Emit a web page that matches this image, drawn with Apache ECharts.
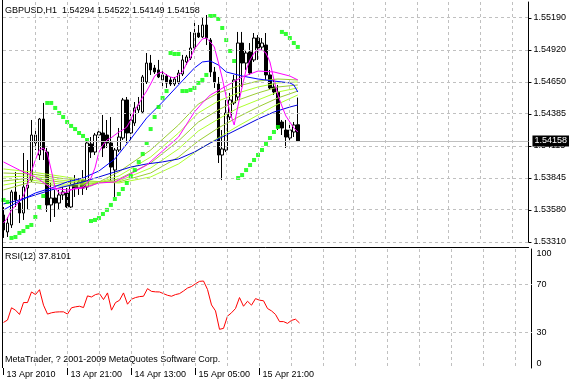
<!DOCTYPE html>
<html><head><meta charset="utf-8">
<script src="https://cdn.jsdelivr.net/npm/echarts@6/dist/echarts.min.js"></script>
<style>html,body{margin:0;padding:0;background:#fff}#c{width:569px;height:385px}</style>
</head><body><div id="c"></div>
<script>
// ---------- data ----------
const titleText = 'GBPUSD,H1  1.54294 1.54522 1.54149 1.54158';
const rsiTitle = 'RSI(12) 37.8101';
const copyright = 'MetaTrader, ? 2001-2009 MetaQuotes Software Corp.';
const timeLabels = ['13 Apr 2010', '13 Apr 21:00', '14 Apr 13:00', '15 Apr 05:00', '15 Apr 21:00'];
const barsPerTimeLabel = 16;
const barsPerGridLine = 8;
const slotCount = 133;
const priceLabels = ['1.53310', '1.53580', '1.53845', '1.54115', '1.54385', '1.54650', '1.54920', '1.55190'];
const priceMin = 1.53310, priceTop = 1.55190;
const rsiLabels = {0: '0', 30: '30', 70: '70', 100: '100'};
const rsiLevels = [30, 70];
const bidPrice = 1.54158;

const opens = [1.53537,1.53394,1.53453,1.53730,1.53637,1.53553,1.53763,1.53830,1.54141,1.54040,
1.54342,1.54065,1.53621,1.53679,1.53637,1.53705,1.53721,1.53604,1.53797,1.53763,
1.53830,1.53772,1.54133,1.54065,1.54208,1.54225,1.54208,1.54141,1.53914,1.54082,
1.54183,1.54502,1.54225,1.54309,1.54418,1.54401,1.54653,1.54812,1.54770,1.54754,
1.54670,1.54703,1.54670,1.54636,1.54653,1.54720,1.54821,1.54854,1.54938,1.55064,
1.55031,1.55131,1.55005,1.54737,1.54636,1.54040,1.54082,1.54359,1.54477,1.54527,
1.54980,1.54812,1.54905,1.54838,1.55022,1.54946,1.54963,1.54712,1.54611,1.54569,
1.54317,1.54250,1.54183,1.54233,1.54294];
const highs = [1.53604,1.53520,1.53747,1.53898,1.53705,1.54057,1.53998,1.54334,1.54267,1.54351,
1.54477,1.54099,1.53805,1.53747,1.53747,1.53772,1.53763,1.53830,1.53872,1.53847,
1.53914,1.54166,1.54191,1.54225,1.54267,1.54376,1.54334,1.54359,1.54099,1.54267,
1.54519,1.54527,1.54401,1.54485,1.54527,1.54712,1.54896,1.54880,1.54796,1.54838,
1.54770,1.54720,1.54695,1.54695,1.54754,1.54880,1.54880,1.55073,1.55156,1.55131,
1.55198,1.55215,1.55022,1.54779,1.54695,1.54250,1.54502,1.54561,1.54712,1.55073,
1.55073,1.54922,1.54980,1.55064,1.55047,1.55022,1.55064,1.54754,1.54670,1.54628,
1.54334,1.54334,1.54317,1.54317,1.54522];
const lows = [1.53344,1.53352,1.53428,1.53604,1.53469,1.53495,1.53579,1.53814,1.54082,1.53998,
1.53998,1.53562,1.53478,1.53520,1.53579,1.53663,1.53595,1.53595,1.53688,1.53705,
1.53705,1.53747,1.54015,1.54040,1.54183,1.54023,1.54099,1.53814,1.53688,1.54065,
1.54166,1.54141,1.54141,1.54284,1.54393,1.54393,1.54636,1.54712,1.54720,1.54686,
1.54603,1.54603,1.54619,1.54619,1.54636,1.54703,1.54796,1.54838,1.54922,1.55022,
1.55022,1.54963,1.54695,1.54603,1.53973,1.53830,1.54065,1.54334,1.54460,1.54502,
1.54611,1.54754,1.54712,1.54821,1.54838,1.54922,1.54670,1.54586,1.54544,1.54250,
1.54208,1.54099,1.54166,1.54191,1.54149];
const closes = [1.53411,1.53469,1.53730,1.53663,1.53553,1.53772,1.53788,1.54208,1.54208,1.54342,
1.54082,1.53621,1.53679,1.53637,1.53705,1.53730,1.53604,1.53788,1.53763,1.53814,
1.53763,1.54141,1.54065,1.54208,1.54233,1.54099,1.54141,1.53939,1.54082,1.54191,
1.54502,1.54225,1.54334,1.54435,1.54460,1.54695,1.54812,1.54754,1.54737,1.54695,
1.54712,1.54644,1.54636,1.54678,1.54728,1.54838,1.54863,1.54938,1.55064,1.55031,
1.55131,1.55022,1.54737,1.54653,1.54040,1.54091,1.54393,1.54502,1.54670,1.54980,
1.54812,1.54896,1.54728,1.55022,1.54938,1.54980,1.54712,1.54603,1.54569,1.54267,
1.54267,1.54191,1.54250,1.54292,1.54158];

// fast magenta MA, one value per bar
const maFastMagenta = [1.53470,1.53511,1.53579,1.53612,1.53654,1.53696,1.53788,1.53898,1.53998,1.54082,
1.54099,1.54057,1.53914,1.53763,1.53721,1.53721,1.53730,1.53747,1.53763,1.53763,
1.53772,1.53805,1.53847,1.53931,1.54065,1.54124,1.54166,1.54183,1.54208,1.54233,
1.54250,1.54275,1.54334,1.54418,1.54468,1.54527,1.54577,1.54636,1.54703,1.54728,
1.54737,1.54712,1.54695,1.54686,1.54712,1.54737,1.54804,1.54854,1.54930,1.54972,
1.55014,1.55022,1.54989,1.54947,1.54821,1.54686,1.54527,1.54393,1.54292,1.54460,
1.54611,1.54754,1.54838,1.54896,1.54922,1.54922,1.54896,1.54821,1.54670,1.54544,
1.54451,1.54368,1.54317,1.54267,1.54233];
// slower lines, read at sample bars
const maSlowMagentaBars = [0,4,8,12,16,20,24,28,32,36,40,44,48,50,52,56,60,64,68,72,74];
const maSlowMagenta = [1.53982,1.53914,1.53856,1.53763,1.53747,1.53763,1.53805,1.53814,1.53881,1.53956,1.54074,1.54191,1.54401,1.54477,1.54544,1.54619,1.54695,1.54745,1.54737,1.54703,1.54670];
const maFastBlueBars = [0,4,8,12,16,20,24,28,32,36,40,44,48,50,52,54,56,60,64,68,72,73,74];
const maFastBlue = [1.53579,1.53654,1.53721,1.53763,1.53814,1.53847,1.53906,1.54007,1.54175,1.54351,1.54485,1.54628,1.54770,1.54821,1.54829,1.54796,1.54737,1.54703,1.54678,1.54661,1.54645,1.54628,1.54569];
const maSlowBlueBars = [0,4,8,12,16,20,24,28,32,36,40,44,48,52,56,60,64,68,72,74];
const maSlowBlue = [1.53629,1.53663,1.53705,1.53747,1.53780,1.53814,1.53856,1.53898,1.53939,1.53965,1.53982,1.54007,1.54065,1.54141,1.54208,1.54275,1.54342,1.54401,1.54443,1.54460];
const ribbonBars = [0,7,14,22,29,37,44,49,54,59,64,69,74];
const ribbon1 = [1.53747,1.53814,1.53780,1.53780,1.53898,1.54082,1.54292,1.54468,1.54561,1.54619,1.54661,1.54678,1.54670];
const ribbon2 = [1.53788,1.53830,1.53797,1.53788,1.53864,1.54023,1.54225,1.54393,1.54493,1.54561,1.54611,1.54645,1.54653];
const ribbon3 = [1.53822,1.53847,1.53814,1.53797,1.53839,1.53973,1.54158,1.54317,1.54418,1.54502,1.54561,1.54611,1.54628];
const ribbon4 = [1.53856,1.53864,1.53830,1.53805,1.53822,1.53931,1.54091,1.54242,1.54342,1.54435,1.54502,1.54569,1.54603];
const ribbon5 = [1.53889,1.53881,1.53847,1.53814,1.53814,1.53889,1.54023,1.54158,1.54267,1.54359,1.54443,1.54519,1.54577];
const ribbon6 = [1.53923,1.53898,1.53864,1.53822,1.53805,1.53856,1.53965,1.54082,1.54183,1.54284,1.54376,1.54468,1.54544];
const sar = [1.53663,1.53646,
1.53344,1.53352,1.53386,1.53402,1.53436,1.53453,1.53520,1.53604,1.53696,
1.54477,1.54477,1.54435,1.54393,1.54359,1.54317,1.54284,1.54258,1.54225,1.54200,1.54166,
1.53486,1.53495,1.53511,1.53545,1.53579,1.53621,1.53671,1.53713,1.53755,1.53805,1.53864,1.53914,1.53982,1.54049,1.54141,1.54258,1.54359,1.54443,1.54519,1.54577,
1.54896,1.54888,1.54888,
1.54577,1.54577,1.54586,1.54603,1.54645,1.54670,1.54712,
1.55207,1.55207,1.55182,1.55106,1.55005,1.54913,1.54829,
1.53847,1.53872,1.53914,1.53956,1.53998,1.54040,1.54082,1.54133,1.54183,1.54233,1.54275,
1.55073,1.55056,1.55022,1.54980,1.54947];
const rsi = [38.3,40.3,50.6,48.6,45.0,55.0,55.0,63.9,61.7,65.8,
52.8,45.3,46.4,47.0,47.2,47.2,45.3,50.6,51.4,51.9,
50.8,60.6,59.7,61.7,62.5,57.5,63.1,48.6,55.0,56.9,
63.1,53.6,57.8,59.2,60.0,60.3,66.7,64.4,64.0,63.9,
62.5,61.1,60.3,61.7,62.5,64.7,67.2,68.5,70.8,72.8,
73.1,66.0,53.0,48.0,32.5,33.3,43.6,46.4,50.0,59.2,
51.9,56.1,52.8,58.3,57.0,56.5,50.0,48.0,45.0,39.0,
39.0,37.5,40.0,41.0,37.81];

// ---------- chart ----------
const FONT = '"Liberation Sans", Arial, sans-serif';
const GRID_LEFT = 3.5, GRID_W = 528;
const DASH_ON = 3, DASH_OFF = 3;
const cats = Array.from({length: slotCount}, (_, i) => String(i));
const priceInterval = (priceTop - priceMin) / (priceLabels.length - 1);
const pairs = (bars, vals) => bars.map((b, i) => [b, vals[i]]);
const isTimeTick = (i) => i % barsPerTimeLabel === 0 && i / barsPerTimeLabel < timeLabels.length;
const gridCols = [];
for (let k = barsPerGridLine; k < slotCount; k += barsPerGridLine) gridCols.push(k);
const crisp = (v) => Math.round(v - 0.5) + 0.5;
const seg = (x1, y1, x2, y2, stroke) => ({type: 'line', shape: {x1, y1, x2, y2}, style: {stroke, lineWidth: 1}});

// dotted grid + panel frame, placed through the axes' own scales
function gridSeries(xi, yi, baseY, levels, frameOf) {
  const data = [...gridCols.map((c) => [c, baseY, 0]), ...levels.map((l) => [0, l, 1]), [0, baseY, 2]];
  return {type: 'custom', xAxisIndex: xi, yAxisIndex: yi, silent: true, z: 10, clip: false, data,
    renderItem: (params, api) => {
      const cs = params.coordSys;
      const kind = api.value(2);
      if (kind === 2) {
        return {type: 'group', children: frameOf(cs).map((s) => seg(s.x1, s.y1, s.x2, s.y2, '#000000'))};
      }
      const p = api.coord([api.value(0), api.value(1)]);
      const children = [];
      if (kind === 0) {
        const x = crisp(p[0]);
        const top = Math.round(cs.y), bottom = Math.round(cs.y + cs.height);
        for (let y = top; y < bottom; y += DASH_ON + DASH_OFF) children.push(seg(x, y, x, Math.min(y + DASH_ON, bottom), '#c0c0c0'));
      } else {
        const y = crisp(p[1]);
        const left = Math.floor(cs.x), right = Math.round(cs.x + cs.width);
        for (let x = left; x < right; x += DASH_ON + DASH_OFF) children.push(seg(x, y, Math.min(x + DASH_ON, right), y, '#c0c0c0'));
      }
      return {type: 'group', children};
    }};
}
const priceFrame = (cs) => [
  {x1: cs.x - 1, y1: 0, x2: cs.x - 1, y2: cs.y + cs.height + 6},
  {x1: cs.x - 1.5, y1: cs.y + cs.height + 5.5, x2: cs.x + cs.width + 0.5, y2: cs.y + cs.height + 5.5}
];
const rsiFrame = (cs) => [
  {x1: cs.x - 1, y1: cs.y - 1.5, x2: cs.x - 1, y2: cs.y + cs.height}
];
function lineSeries(data, color) {
  return {type: 'line', data, xAxisIndex: 0, yAxisIndex: 0, showSymbol: false, symbol: 'none',
    lineStyle: {color, width: 1}, silent: true, z: 3};
}
const txt = (text, top) => ({text, left: 5, top, padding: 0,
  textStyle: {fontSize: 9, fontWeight: 'normal', fontFamily: FONT, color: '#000'}});

const chart = echarts.init(document.getElementById('c'), null, {renderer: 'canvas'});
const ribbonColors = ['#adff2f', '#9acd32', '#adff2f', '#9acd32', '#adff2f', '#9acd32'];
const ribbons = [ribbon6, ribbon5, ribbon4, ribbon3, ribbon2, ribbon1];

chart.setOption({
  animation: false,
  backgroundColor: '#fff',
  title: [txt(titleText, 6), txt(rsiTitle, 252), txt(copyright, 355)],
  grid: [
    {left: GRID_LEFT, width: GRID_W, top: 2, height: 240},
    {left: GRID_LEFT, width: GRID_W, top: 249, height: 119}
  ],
  xAxis: [
    {type: 'category', gridIndex: 0, data: cats, boundaryGap: false,
     axisLine: {show: false}, axisTick: {show: false}, axisLabel: {show: false}, splitLine: {show: false}},
    {type: 'category', gridIndex: 1, data: cats, boundaryGap: false,
     axisLine: {show: false},
     axisTick: {show: true, interval: isTimeTick, length: 7, lineStyle: {color: '#000'}},
     axisLabel: {show: true, interval: isTimeTick, align: 'left', margin: 2, padding: [0, 0, 0, 3],
       fontFamily: FONT, fontSize: 9, color: '#000',
       formatter: (v, i) => isTimeTick(i) ? timeLabels[i / barsPerTimeLabel] : ''},
     splitLine: {show: false}}
  ],
  yAxis: [
    {type: 'value', gridIndex: 0, position: 'right', min: priceMin, max: priceTop + priceInterval / 2,
     interval: priceInterval,
     axisLine: {show: true, lineStyle: {color: '#000'}},
     axisTick: {show: true, length: 3, lineStyle: {color: '#000'}},
     axisLabel: {margin: 5, fontFamily: FONT, fontSize: 9, color: '#000', showMaxLabel: false,
       formatter: (v) => {
         const k = Math.round((v - priceMin) / priceInterval);
         return Math.abs(v - (priceMin + k * priceInterval)) < priceInterval * 0.05 ? (priceLabels[k] || '') : '';
       }},
     splitLine: {show: false}},
    {type: 'value', gridIndex: 1, position: 'right', min: 0, max: 100, interval: 10,
     axisLine: {show: true, lineStyle: {color: '#000'}},
     axisTick: {show: false},
     axisLabel: {margin: 5, fontFamily: FONT, fontSize: 9, color: '#000',
       verticalAlignMaxLabel: 'top', verticalAlignMinLabel: 'bottom',
       formatter: (v) => rsiLabels[Math.round(v)] || ''},
     splitLine: {show: false}}
  ],
  series: [
    gridSeries(0, 0, priceMin, priceLabels.map(Number), priceFrame),
    gridSeries(1, 1, 0, rsiLevels, rsiFrame),
    {type: 'candlestick', xAxisIndex: 0, yAxisIndex: 0, barWidth: 3, silent: true, z: 2,
     data: opens.map((o, i) => [o, closes[i], lows[i], highs[i]]),
     itemStyle: {color: '#ffffff', color0: '#000000', borderColor: '#000000', borderColor0: '#000000', borderWidth: 1},
     markLine: {symbol: 'none', silent: true, animation: false, precision: 5,
       lineStyle: {color: '#c0c0c0', type: 'solid', width: 1},
       label: {show: true, position: 'end', distance: 4, formatter: () => bidPrice.toFixed(5),
         color: '#fff', backgroundColor: '#000', padding: [1, 2, 1, 2], fontFamily: FONT, fontSize: 9},
       data: [{yAxis: bidPrice}]}},
    ...ribbons.map((r, i) => lineSeries(pairs(ribbonBars, r), ribbonColors[i])),
    lineSeries(pairs(maSlowBlueBars, maSlowBlue), '#0000dd'),
    lineSeries(pairs(maFastBlueBars, maFastBlue), '#0000ff'),
    lineSeries(pairs(maSlowMagentaBars, maSlowMagenta), '#ff00ff'),
    lineSeries(maFastMagenta.map((v, i) => [i, v]), '#ff00ff'),
    {type: 'scatter', xAxisIndex: 0, yAxisIndex: 0, symbol: 'rect', symbolSize: 4, silent: true, z: 4,
     itemStyle: {color: '#00ff00'}, data: sar.map((v, i) => [i, v])},
    {type: 'line', xAxisIndex: 1, yAxisIndex: 1, showSymbol: false, symbol: 'none', silent: true, z: 3,
     lineStyle: {color: '#ff0000', width: 1}, data: rsi.map((v, i) => [i, v])}
  ]
});
</script></body></html>
